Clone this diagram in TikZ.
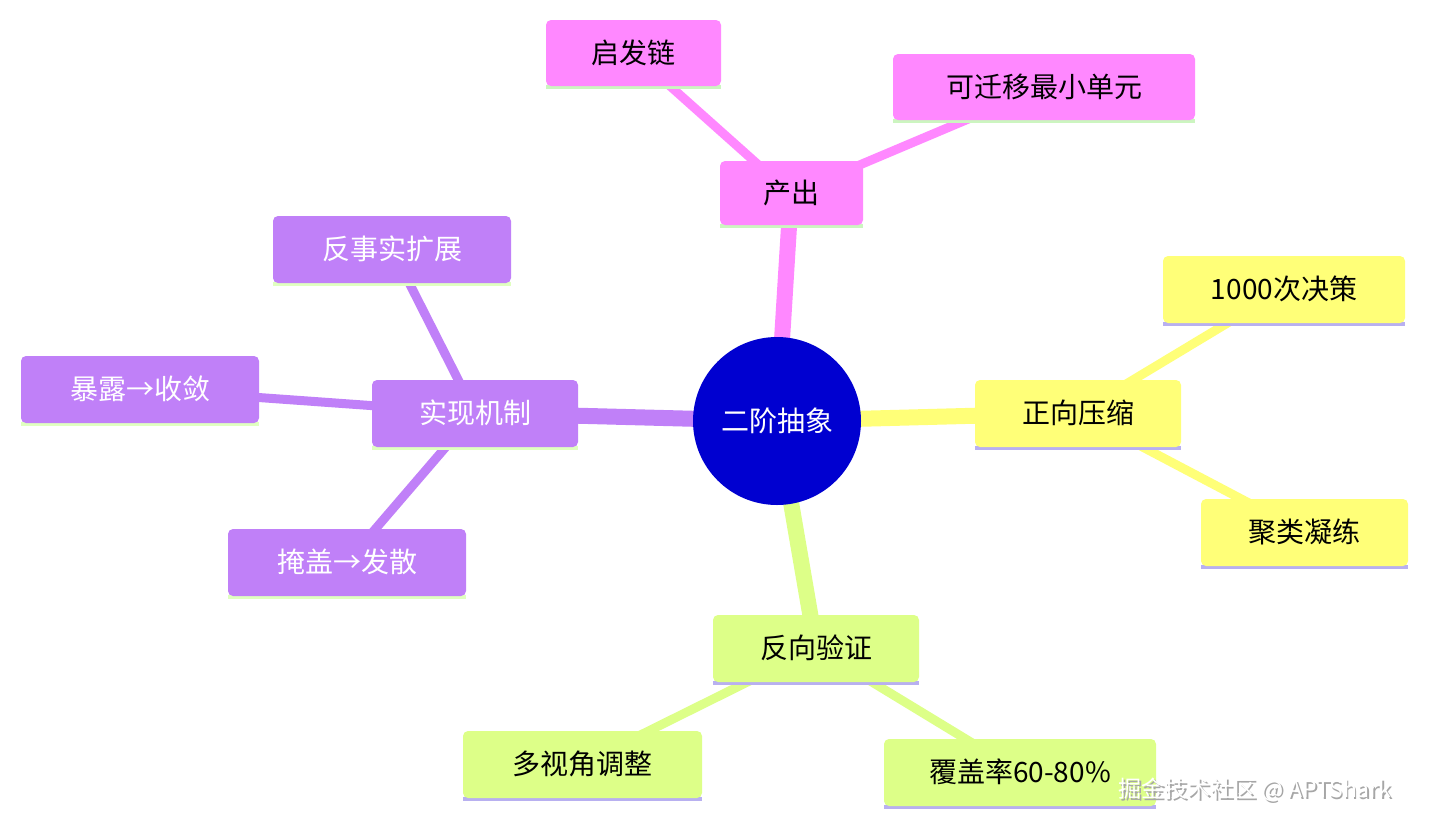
\documentclass[tikz,border=0pt]{standalone}
\usepackage{fontspec}
\setmainfont{Noto Sans CJK SC}
\begin{document}
\begin{tikzpicture}[x=1pt,y=-1pt,
  box/.style={rounded corners=5pt,font=\fontsize{28}{30}\selectfont},
  edge/.style={line cap=round}]
\definecolor{pk}{HTML}{FF88FF}\definecolor{yl}{HTML}{FFFF78}
\definecolor{gr}{HTML}{DDFF88}\definecolor{pu}{HTML}{C080F8}
\definecolor{ulg}{HTML}{CCF5C0}\definecolor{ulp}{HTML}{B8B0F0}
\definecolor{ulg2}{HTML}{E0FFC0}\definecolor{ctr}{HTML}{0000D0}
\useasboundingbox (0,0) rectangle (1429,827);
\fill[white] (0,0) rectangle (1429,827);
\coordinate (c) at (777,421);
\coordinate (cc) at (791,194);\coordinate (ca) at (633,53);\coordinate (cb) at (1044,87);
\coordinate (yy) at (1078,413);\coordinate (ya) at (1284,289);\coordinate (yb) at (1304,532);
\coordinate (gg) at (816,648);\coordinate (ga) at (582,764);\coordinate (gb) at (1020,772);
\coordinate (pp) at (475,413);\coordinate (pa) at (392,249);\coordinate (pb) at (140,389);\coordinate (pc) at (347,562);
\draw[edge,pk,line width=16pt] (c)--(cc);
\draw[edge,pk,line width=9pt] (cc)--(ca);\draw[edge,pk,line width=9pt] (cc)--(cb);
\draw[edge,yl,line width=16pt] (c)--(yy);
\draw[edge,yl,line width=9pt] (yy)--(ya);\draw[edge,yl,line width=9pt] (yy)--(yb);
\draw[edge,gr,line width=16pt] (c)--(gg);
\draw[edge,gr,line width=9pt] (gg)--(ga);\draw[edge,gr,line width=9pt] (gg)--(gb);
\draw[edge,pu,line width=16pt] (c)--(pp);
\draw[edge,pu,line width=9pt] (pp)--(pa);\draw[edge,pu,line width=9pt] (pp)--(pb);\draw[edge,pu,line width=9pt] (pp)--(pc);
\newcommand{\bx}[9]{\fill[#6] (#1,#4-4) rectangle (#3,#4);
  \fill[#5,rounded corners=5pt] (#1,#2) rectangle (#3,#4-3);
  \node[box,text=#7] (#8) at ({(#1+#3)/2},{(#2+#4)/2-2}) {#9};}
\bx{720}{161}{863}{228}{pk}{ulg}{black}{nCC}{产出}
\bx{546}{20}{721}{89}{pk}{ulg}{black}{nCA}{启发链}
\bx{893}{54}{1195}{123}{pk}{ulg}{black}{nCB}{可迁移最小单元}
\bx{975}{380}{1181}{450}{yl}{ulp}{black}{nYY}{正向压缩}
\bx{1163}{256}{1405}{326}{yl}{ulp}{black}{nYA}{1000次决策}
\bx{1201}{499}{1408}{569}{yl}{ulp}{black}{nYB}{聚类凝练}
\bx{713}{615}{919}{685}{gr}{ulp}{black}{nGG}{反向验证}
\bx{463}{731}{702}{801}{gr}{ulp}{black}{nGA}{多视角调整}
\bx{884}{739}{1156}{809}{gr}{ulp}{black}{nGB}{覆盖率60-80\%}
\bx{372}{380}{578}{450}{pu}{ulg2}{white}{nPP}{实现机制}
\bx{273}{216}{511}{286}{pu}{ulg2}{white}{nPA}{反事实扩展}
\bx{21}{356}{259}{426}{pu}{ulg2}{white}{nPB}{暴露→收敛}
\bx{228}{529}{466}{599}{pu}{ulg2}{white}{nPC}{掩盖→发散}
\node[circle,fill=ctr,minimum size=168pt,inner sep=0pt,text=white,font=\fontsize{28}{30}\selectfont] (center) at (c) {二阶抽象};
\node[text=gray!70,font=\fontsize{23}{26}\selectfont] at (1256.5,791.5) {掘金技术社区 @ APTShark};
\node[text=white,font=\fontsize{23}{26}\selectfont] (wm) at (1255,790) {掘金技术社区 @ APTShark};
\end{tikzpicture}
\end{document}
